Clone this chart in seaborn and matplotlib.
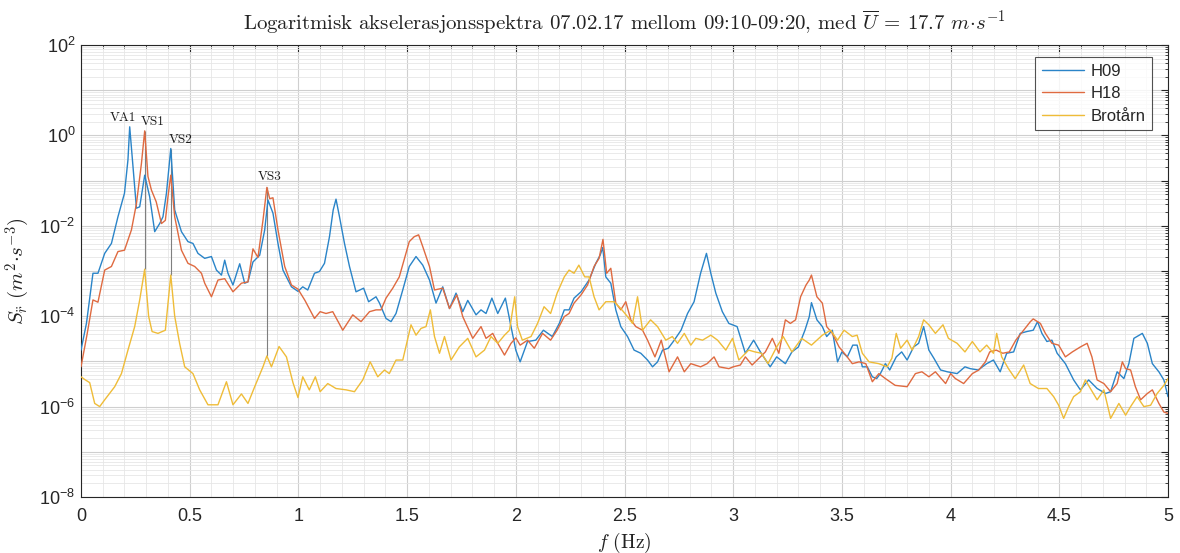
import numpy as np
import pandas as pd
import matplotlib
matplotlib.use("Agg")
import matplotlib.pyplot as plt
import seaborn as sns
from matplotlib.ticker import FixedLocator, FuncFormatter, MultipleLocator, NullFormatter

# ---------------- data: (frequency [Hz], log10 of spectral density) ----------------
h09_points = [
    (0.000, -4.75), (0.025, -4.16), (0.055, -3.05), (0.078, -3.05), (0.109, -2.61),
    (0.140, -2.39), (0.170, -1.80), (0.200, -1.28), (0.216, -0.54), (0.224, 0.19),
    (0.255, -1.61), (0.270, -1.58), (0.293, -0.88), (0.316, -1.36), (0.339, -2.13),
    (0.362, -1.95), (0.377, -1.80), (0.393, -1.28), (0.413, -0.29), (0.431, -1.65),
    (0.462, -2.13), (0.492, -2.35), (0.515, -2.39), (0.538, -2.61), (0.569, -2.72),
    (0.600, -2.68), (0.623, -2.98), (0.646, -3.09), (0.661, -2.76), (0.676, -3.05),
    (0.699, -3.31), (0.730, -2.84), (0.753, -3.27), (0.768, -3.24), (0.791, -2.80),
    (0.822, -2.65), (0.845, -2.09), (0.860, -1.43), (0.883, -1.72), (0.906, -2.39),
    (0.929, -2.98), (0.968, -3.35), (0.998, -3.45), (1.020, -3.35), (1.043, -3.42),
    (1.074, -3.05), (1.097, -3.01), (1.120, -2.83), (1.143, -2.24), (1.160, -1.65),
    (1.173, -1.41), (1.189, -1.80), (1.212, -2.39), (1.235, -2.90), (1.265, -3.46),
    (1.300, -3.38), (1.323, -3.68), (1.357, -3.57), (1.373, -3.71), (1.403, -4.05),
    (1.426, -4.12), (1.449, -3.94), (1.480, -3.42), (1.510, -2.90), (1.541, -2.68),
    (1.572, -2.87), (1.603, -3.20), (1.633, -3.71), (1.664, -3.35), (1.695, -3.83),
    (1.725, -3.49), (1.756, -3.90), (1.779, -3.65), (1.817, -3.97), (1.840, -3.86),
    (1.863, -3.94), (1.890, -3.60), (1.917, -3.94), (1.952, -3.60), (1.978, -4.23),
    (2.000, -4.75), (2.020, -5.01), (2.054, -4.56), (2.092, -4.53), (2.127, -4.31),
    (2.168, -4.45), (2.200, -4.16), (2.223, -3.86), (2.245, -3.86), (2.268, -3.60),
    (2.300, -3.46), (2.337, -3.20), (2.368, -2.83), (2.388, -2.65), (2.400, -2.48),
    (2.414, -3.13), (2.437, -3.27), (2.460, -3.86), (2.483, -4.23), (2.514, -4.45),
    (2.544, -4.75), (2.575, -4.82), (2.606, -4.97), (2.629, -5.12), (2.652, -5.01),
    (2.675, -4.75), (2.701, -4.71), (2.729, -4.53), (2.760, -4.31), (2.790, -3.94),
    (2.820, -3.68), (2.850, -3.05), (2.877, -2.61), (2.897, -3.05), (2.920, -3.49),
    (2.950, -3.90), (2.980, -4.16), (3.018, -4.23), (3.056, -4.82), (3.094, -4.53),
    (3.125, -4.79), (3.170, -5.12), (3.200, -4.90), (3.240, -5.05), (3.270, -4.79),
    (3.300, -4.68), (3.330, -4.31), (3.350, -4.01), (3.360, -3.70), (3.385, -4.08),
    (3.410, -4.23), (3.430, -4.45), (3.456, -4.31), (3.480, -5.01), (3.500, -4.79),
    (3.525, -4.90), (3.550, -4.64), (3.570, -4.64), (3.594, -5.12), (3.617, -5.12),
    (3.640, -5.34), (3.660, -5.38), (3.677, -5.27), (3.700, -5.05), (3.720, -5.19),
    (3.750, -4.90), (3.775, -4.79), (3.800, -4.97), (3.830, -4.68), (3.853, -4.60),
    (3.876, -4.23), (3.900, -4.75), (3.923, -4.93), (3.954, -5.19), (3.985, -5.23),
    (4.030, -5.27), (4.066, -5.12), (4.090, -5.16), (4.127, -5.19), (4.166, -5.05),
    (4.197, -4.97), (4.228, -5.23), (4.258, -4.82), (4.290, -4.79), (4.320, -4.38),
    (4.350, -4.34), (4.380, -4.31), (4.400, -4.12), (4.420, -4.38), (4.443, -4.56),
    (4.466, -4.53), (4.490, -4.82), (4.528, -5.05), (4.566, -5.41), (4.597, -5.63),
    (4.635, -5.41), (4.674, -5.60), (4.713, -5.71), (4.736, -5.67), (4.766, -5.23),
    (4.797, -5.38), (4.820, -5.05), (4.843, -4.49), (4.882, -4.38), (4.905, -4.60),
    (4.928, -5.05), (4.958, -5.23), (4.981, -5.41), (5.000, -5.78),
]

h18_points = [
    (0.000, -5.12), (0.028, -4.40), (0.055, -3.64), (0.078, -3.69), (0.109, -2.98),
    (0.140, -2.90), (0.170, -2.57), (0.200, -2.54), (0.232, -2.09), (0.255, -1.51),
    (0.278, -0.62), (0.293, 0.10), (0.308, -0.91), (0.324, -1.21), (0.346, -1.47),
    (0.370, -1.95), (0.388, -1.88), (0.400, -1.36), (0.413, -0.88), (0.431, -1.80),
    (0.462, -2.54), (0.492, -2.83), (0.523, -2.90), (0.554, -3.05), (0.569, -3.27),
    (0.600, -3.57), (0.630, -3.20), (0.661, -3.17), (0.699, -3.46), (0.738, -3.27),
    (0.768, -3.24), (0.791, -2.51), (0.814, -2.70), (0.837, -1.88), (0.855, -1.15),
    (0.868, -1.40), (0.883, -1.38), (0.906, -2.09), (0.937, -2.90), (0.968, -3.31),
    (0.998, -3.40), (1.030, -3.65), (1.074, -4.05), (1.100, -3.90), (1.127, -3.94),
    (1.158, -3.90), (1.204, -4.31), (1.250, -3.97), (1.288, -4.12), (1.327, -3.90),
    (1.357, -3.86), (1.380, -3.86), (1.403, -3.60), (1.434, -3.38), (1.464, -3.13),
    (1.510, -2.35), (1.533, -2.24), (1.553, -2.20), (1.572, -2.46), (1.603, -2.90),
    (1.626, -3.42), (1.664, -3.38), (1.695, -3.83), (1.729, -3.53), (1.756, -4.01),
    (1.802, -4.49), (1.840, -4.23), (1.863, -4.49), (1.894, -4.38), (1.917, -4.60),
    (1.948, -4.86), (1.978, -4.60), (2.000, -4.48), (2.020, -4.64), (2.054, -4.53),
    (2.085, -4.71), (2.123, -4.38), (2.160, -4.53), (2.190, -4.31), (2.223, -4.01),
    (2.245, -3.94), (2.268, -3.71), (2.300, -3.53), (2.330, -3.31), (2.360, -2.90),
    (2.383, -2.72), (2.401, -2.30), (2.418, -3.05), (2.437, -2.94), (2.460, -3.71),
    (2.483, -3.86), (2.506, -3.68), (2.529, -4.08), (2.552, -4.23), (2.583, -4.31),
    (2.606, -4.53), (2.640, -4.90), (2.669, -4.53), (2.705, -5.23), (2.744, -4.90),
    (2.775, -5.23), (2.805, -5.05), (2.850, -5.12), (2.880, -5.05), (2.912, -4.90),
    (2.935, -5.12), (2.980, -5.16), (3.000, -5.12), (3.033, -5.08), (3.056, -4.90),
    (3.087, -5.08), (3.125, -4.90), (3.148, -4.79), (3.180, -4.49), (3.210, -4.82),
    (3.240, -4.08), (3.263, -4.16), (3.287, -4.08), (3.310, -3.57), (3.335, -3.31),
    (3.350, -3.20), (3.360, -3.09), (3.385, -3.57), (3.410, -3.71), (3.430, -4.23),
    (3.456, -4.38), (3.487, -4.68), (3.518, -4.86), (3.548, -5.05), (3.579, -5.01),
    (3.610, -5.05), (3.640, -5.45), (3.670, -5.27), (3.700, -5.38), (3.745, -5.53),
    (3.800, -5.56), (3.838, -5.27), (3.868, -5.23), (3.900, -5.34), (3.930, -5.23),
    (3.977, -5.49), (4.000, -5.27), (4.022, -5.38), (4.060, -5.49), (4.100, -5.27),
    (4.130, -5.19), (4.160, -5.01), (4.180, -4.79), (4.210, -4.75), (4.240, -4.82),
    (4.270, -4.79), (4.300, -4.53), (4.336, -4.31), (4.367, -4.12), (4.380, -4.06),
    (4.413, -4.16), (4.436, -4.38), (4.466, -4.60), (4.497, -4.64), (4.528, -4.90),
    (4.560, -4.79), (4.597, -4.68), (4.628, -4.60), (4.650, -4.90), (4.674, -5.41),
    (4.705, -5.49), (4.736, -5.67), (4.766, -5.49), (4.790, -5.01), (4.805, -5.16),
    (4.828, -5.19), (4.850, -5.56), (4.874, -5.85), (4.905, -5.71), (4.928, -5.63),
    (4.958, -5.93), (4.981, -6.12), (5.000, -6.15),
]

brotarn_points = [
    (0.000, -5.34), (0.017, -5.40), (0.040, -5.47), (0.063, -5.93), (0.086, -6.00),
    (0.109, -5.85), (0.155, -5.56), (0.186, -5.27), (0.216, -4.75), (0.247, -4.23),
    (0.270, -3.64), (0.293, -2.96), (0.311, -4.00), (0.327, -4.34), (0.354, -4.38),
    (0.388, -4.31), (0.413, -3.09), (0.431, -4.00), (0.454, -4.61), (0.477, -5.12),
    (0.515, -5.27), (0.546, -5.63), (0.584, -5.96), (0.630, -5.96), (0.669, -5.45),
    (0.699, -5.96), (0.738, -5.72), (0.768, -5.93), (0.799, -5.56), (0.837, -5.12),
    (0.855, -4.88), (0.876, -5.12), (0.911, -4.67), (0.945, -4.90), (0.975, -5.47),
    (0.998, -5.80), (1.020, -5.34), (1.050, -5.63), (1.078, -5.34), (1.100, -5.67),
    (1.135, -5.49), (1.173, -5.60), (1.220, -5.63), (1.258, -5.67), (1.296, -5.41),
    (1.330, -5.01), (1.365, -5.34), (1.396, -5.19), (1.418, -5.27), (1.449, -4.97),
    (1.480, -4.97), (1.518, -4.19), (1.541, -4.42), (1.564, -4.27), (1.587, -4.23),
    (1.607, -3.86), (1.626, -4.45), (1.649, -4.82), (1.672, -4.45), (1.702, -4.97),
    (1.740, -4.68), (1.779, -4.49), (1.817, -4.90), (1.856, -4.75), (1.886, -4.45),
    (1.917, -4.60), (1.948, -4.42), (1.971, -4.31), (1.995, -3.57), (2.008, -4.23),
    (2.030, -4.53), (2.070, -4.45), (2.100, -4.16), (2.130, -3.79), (2.160, -3.94),
    (2.190, -3.49), (2.223, -3.13), (2.245, -2.98), (2.268, -3.05), (2.290, -2.87),
    (2.317, -3.13), (2.337, -3.13), (2.360, -3.57), (2.383, -3.86), (2.414, -3.68),
    (2.452, -3.68), (2.483, -3.83), (2.514, -4.01), (2.537, -4.16), (2.560, -3.57),
    (2.583, -4.31), (2.620, -4.08), (2.652, -4.23), (2.690, -4.53), (2.720, -4.45),
    (2.744, -4.60), (2.775, -4.38), (2.805, -4.64), (2.828, -4.49), (2.859, -4.53),
    (2.897, -4.42), (2.928, -4.53), (2.966, -4.75), (2.997, -4.49), (3.026, -4.97),
    (3.071, -4.75), (3.100, -4.79), (3.130, -4.82), (3.160, -5.05), (3.200, -4.68),
    (3.230, -4.45), (3.270, -4.79), (3.315, -4.49), (3.360, -4.64), (3.410, -4.42),
    (3.448, -4.31), (3.480, -4.53), (3.510, -4.31), (3.548, -4.45), (3.570, -4.42),
    (3.594, -4.82), (3.625, -5.01), (3.670, -5.05), (3.708, -5.12), (3.730, -4.93),
    (3.750, -4.38), (3.770, -4.71), (3.800, -4.53), (3.823, -4.75), (3.853, -4.45),
    (3.876, -4.08), (3.900, -4.19), (3.930, -4.38), (3.965, -4.19), (3.990, -4.49),
    (4.030, -4.60), (4.066, -4.79), (4.100, -4.56), (4.135, -4.79), (4.166, -4.64),
    (4.197, -4.82), (4.212, -4.38), (4.235, -4.90), (4.266, -5.16), (4.297, -5.38),
    (4.336, -5.08), (4.366, -5.49), (4.404, -5.60), (4.443, -5.60), (4.474, -5.78),
    (4.497, -5.97), (4.520, -6.26), (4.543, -6.00), (4.566, -5.78), (4.597, -5.67),
    (4.620, -5.41), (4.643, -5.60), (4.674, -5.85), (4.705, -5.63), (4.736, -6.26),
    (4.774, -5.93), (4.805, -6.19), (4.828, -6.00), (4.858, -5.78), (4.889, -6.00),
    (4.920, -5.97), (4.950, -5.71), (4.981, -5.53), (5.000, -5.38),
]

series_names = ["H09", "H18", "Brotårn"]
series_points = [h09_points, h18_points, brotarn_points]
series_colors = ["#2a84c8", "#df6a40", "#efbc38"]

peak_labels = ["VA1", "VS1", "VS2", "VS3"]
peak_freqs = [0.224, 0.293, 0.413, 0.855]
peak_has_line = [False, True, True, True]

x_ticks = [0, 0.5, 1, 1.5, 2, 2.5, 3, 3.5, 4, 4.5, 5]
y_label_exps = [2, 0, -2, -4, -6, -8]

# ---------------- style ----------------
sns.set_theme(style="white")
plt.rcParams["font.family"] = ["Liberation Sans", "DejaVu Sans"]
plt.rcParams["mathtext.fontset"] = "custom"
plt.rcParams["mathtext.rm"] = "Liberation Sans"
plt.rcParams["mathtext.it"] = "Liberation Sans:italic"
plt.rcParams["mathtext.bf"] = "Liberation Sans:bold"
plt.rcParams["axes.unicode_minus"] = True

frames = []
for name, pts in zip(series_names, series_points):
    arr = np.array(pts)
    frames.append(pd.DataFrame({"f": arr[:, 0], "S": 10.0 ** arr[:, 1], "series": name}))
df = pd.concat(frames, ignore_index=True)

W, H = 1180, 553
fig = plt.figure(figsize=(W / 100, H / 100), dpi=100)
ax = fig.add_axes([81 / W, 1 - 497 / H, (1168 - 81) / W, (497 - 45) / H])

sns.lineplot(data=df, x="f", y="S", hue="series", hue_order=series_names,
             palette=dict(zip(series_names, series_colors)), estimator=None,
             sort=False, linewidth=1.0, ax=ax, zorder=3)

ax.set_yscale("log")
ax.set_xlim(0, 5)
ax.set_ylim(1e-8, 1e2)

# ticks
ax.xaxis.set_major_locator(FixedLocator(x_ticks))
ax.xaxis.set_minor_locator(MultipleLocator(0.1))
ax.xaxis.set_major_formatter(FuncFormatter(lambda v, p: f"{v:g}"))
decades = [10.0 ** k for k in range(-8, 3)]
ax.yaxis.set_major_locator(FixedLocator(decades))
minor = [m * 10.0 ** k for k in range(-8, 2) for m in range(2, 10)]
ax.yaxis.set_minor_locator(FixedLocator(minor))
ax.yaxis.set_minor_formatter(NullFormatter())


def yfmt(v, p):
    e = int(round(np.log10(v)))
    return r"$10^{%d}$" % e if e in y_label_exps else ""


ax.yaxis.set_major_formatter(FuncFormatter(yfmt))

ax.tick_params(which="both", direction="in", top=True, right=True, color="#262626",
               labelsize=13, labelcolor="#262626")
ax.tick_params(which="major", length=5, width=0.8)
ax.tick_params(which="minor", length=2.5, width=0.6)
ax.tick_params(axis="x", pad=8)
ax.tick_params(axis="y", pad=4)

ax.grid(which="major", color="#cfcfcf", linewidth=0.8, zorder=0)
ax.grid(which="minor", color="#e6e6e6", linewidth=0.6, zorder=0)
ax.set_axisbelow(True)
for s in ax.spines.values():
    s.set_color("#262626")
    s.set_linewidth(0.8)

# peak markers
logs = [(np.array(p)[:, 0], np.array(p)[:, 1]) for p in series_points]
label_offsets = [(-5, 2), (6, 2), (7, 2), (2, 3)]
for lab, fp, has_line, off in zip(peak_labels, peak_freqs, peak_has_line, label_offsets):
    vals = [np.interp(fp, fx, lx) for fx, lx in logs]
    top = 10.0 ** max(vals)
    if has_line:
        low = 10.0 ** vals[2]
        ax.vlines(fp, low, top, color="#7f7f7f", linewidth=0.8, zorder=2)
    ax.annotate(lab, xy=(fp, top), xytext=off, textcoords="offset points",
                ha="center", va="bottom", fontsize=9.5, family="cmr10", color="#1a1a1a")

# labels
ax.set_title("Logaritmisk akselerasjonsspektra 07.02.17 mellom 09:10-09:20, med "
             r"$\overline{U}$ = 17.7 $m{\cdot}s^{-1}$",
             fontsize=15, family="cmr10", math_fontfamily="cm", pad=11, color="#222222")
ax.set_xlabel(r"$f$ (Hz)", fontsize=14, family="cmr10", math_fontfamily="cm",
              labelpad=4, color="#222222")
ax.set_ylabel(r"$S_{\ddot{r}}\ (m^2{\cdot}s^{-3})$", fontsize=15, math_fontfamily="cm",
              labelpad=5, color="#222222")

leg = ax.legend(loc="upper right", bbox_to_anchor=(1 - 16 / 1087, 1 - 12 / 452),
                borderaxespad=0, frameon=True, fancybox=False, edgecolor="#262626",
                fontsize=12, handlelength=2.5, handletextpad=0.4, labelspacing=0.45,
                borderpad=0.4, title=None)
leg.get_frame().set_linewidth(0.8)
for t in leg.get_texts():
    t.set_color("#262626")

fig.savefig("out.png", dpi=100, facecolor="white")
